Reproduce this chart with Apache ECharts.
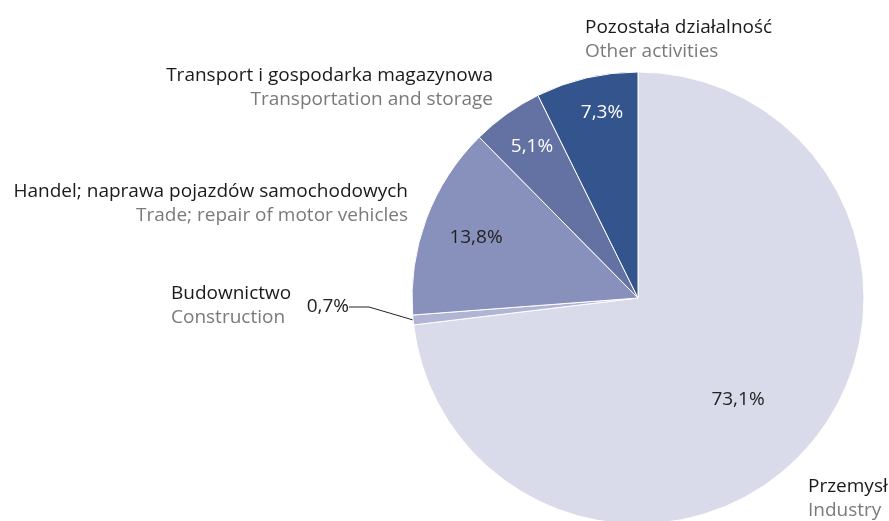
<!DOCTYPE html>
<html>
<head>
<meta charset="utf-8">
<script src="https://cdn.jsdelivr.net/npm/echarts@6/dist/echarts.min.js"></script>
<style>
  html, body { margin: 0; padding: 0; background: #fff; }
  #chart { width: 889px; height: 521px; }
</style>
</head>
<body>
<div id="chart"></div>
<script>
// dane
const namesPl = ['Przemysł', 'Budownictwo', 'Handel; naprawa pojazdów samochodowych', 'Transport i gospodarka magazynowa', 'Pozostała działalność']
const namesEn = ['Industry', 'Construction', 'Trade; repair of motor vehicles', 'Transportation and storage', 'Other activities']
const shares = [73.1, 0.7, 13.8, 5.1, 7.3]

const colors = ['#d9dbea', '#b1b5d5', '#8891bc', '#6371a3', '#34548e']
const valueColors = ['#222', '#222', '#222', '#fff', '#fff']

// pozycje etykiet (px)
const valuePos = [[738, 400], [349, 307], [476, 238], [532, 147], [602, 113]]
const namePos = [[808, 475, 'left'], [171, 282, 'left'], [408, 180, 'right'], [493, 64, 'right'], [585, 16, 'left']]

const fmt = v => v.toFixed(1).replace('.', ',') + '%'
const font = '"Open Sans", sans-serif'
const fs = 19

const myChart = echarts.init(document.getElementById('chart'))

const option = {
  animation: false,
  series: [
    {
      type: 'pie',
      center: [638, 298],
      radius: 226,
      startAngle: 90,
      itemStyle: { borderColor: '#fff', borderWidth: 1 },
      emphasis: { disabled: true },
      data: shares.map((v, i) => ({
        value: v,
        name: namesPl[i],
        itemStyle: { color: colors[i] },
        label: {
          position: i === 1 ? 'outside' : 'inside',
          color: valueColors[i]
        },
        labelLine: { show: i === 1 }
      })),
      label: {
        formatter: p => fmt(p.value),
        fontFamily: font,
        fontSize: fs,
        overflow: 'none'
      },
      labelLine: {
        length: 36,
        length2: 20,
        lineStyle: { color: '#222', width: 1 }
      },
      labelLayout: p => ({
        x: valuePos[p.dataIndex][0],
        y: valuePos[p.dataIndex][1],
        align: p.dataIndex === 1 ? 'right' : 'center',
        verticalAlign: 'middle'
      })
    },
    {
      type: 'pie',
      center: [638, 298],
      radius: 226,
      startAngle: 90,
      silent: true,
      z: 1,
      itemStyle: { color: 'transparent' },
      data: shares.map((v, i) => ({
        value: v,
        name: namesPl[i],
        label: {
          align: namePos[i][2],
          rich: {
            pl: { color: '#1a1a1a', fontSize: fs, fontFamily: font, lineHeight: 24, align: namePos[i][2] },
            en: { color: '#7a7a7a', fontSize: fs, fontFamily: font, lineHeight: 24, align: namePos[i][2] }
          }
        }
      })),
      label: {
        show: true,
        position: 'outside',
        overflow: 'none',
        formatter: p => '{pl|' + namesPl[p.dataIndex] + '}\n{en|' + namesEn[p.dataIndex] + '}'
      },
      labelLine: { show: false },
      labelLayout: p => ({
        x: namePos[p.dataIndex][0],
        y: namePos[p.dataIndex][1],
        align: namePos[p.dataIndex][2],
        verticalAlign: 'top'
      })
    }
  ]
}

myChart.setOption(option)
</script>
</body>
</html>
